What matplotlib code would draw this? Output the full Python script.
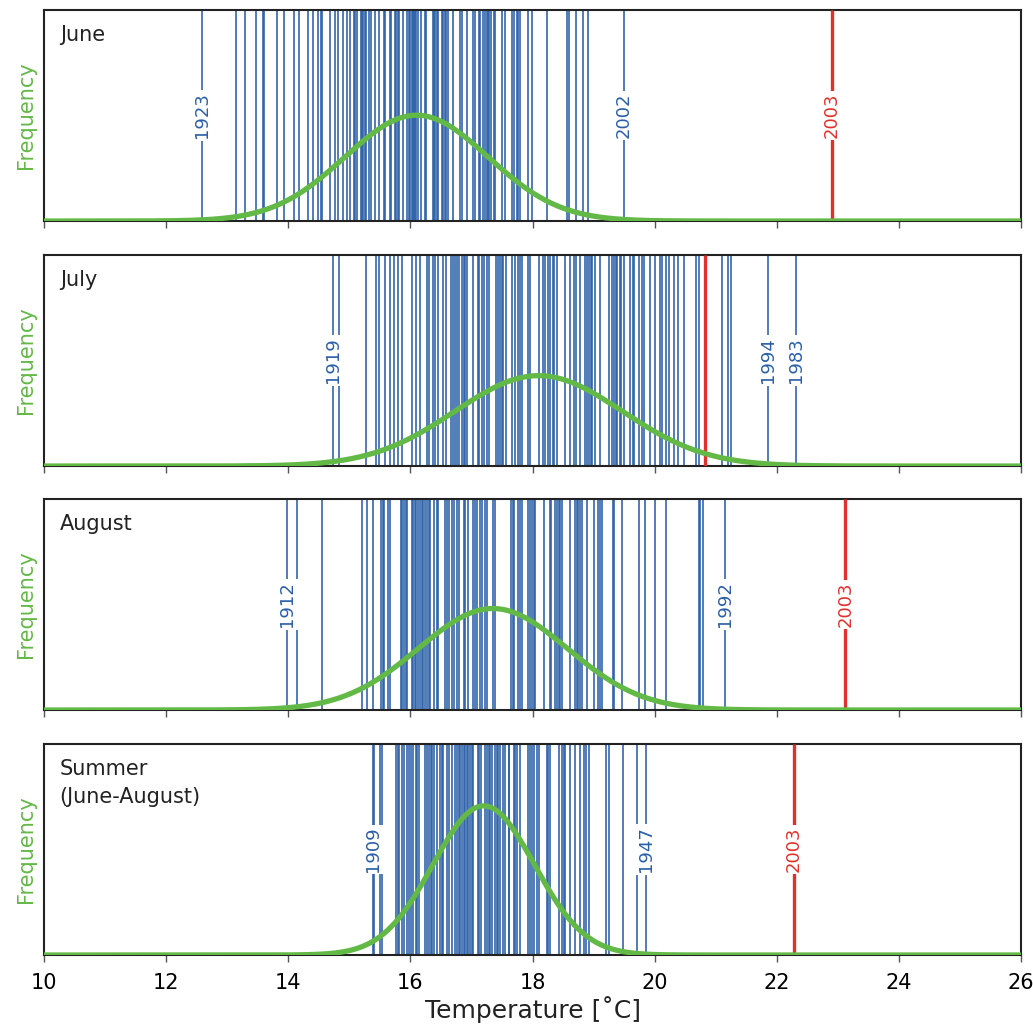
import numpy as np
import matplotlib
matplotlib.use("Agg")
import matplotlib.pyplot as plt

# yearly mean temperatures (deg C)
june_temps = [12.58, 13.14, 13.29, 13.47, 13.59, 13.60, 13.81, 13.93, 14.09, 14.17,
              14.33, 14.41, 14.48, 14.54, 14.56, 14.68, 14.77, 14.81, 14.89, 14.97,
              15.01, 15.07, 15.09, 15.12, 15.19, 15.21, 15.23, 15.26, 15.28, 15.32,
              15.35, 15.42, 15.49, 15.56, 15.58, 15.66, 15.68, 15.74, 15.76, 15.79,
              15.82, 15.88, 15.95, 15.97, 15.99, 16.02, 16.04, 16.06, 16.08, 16.10,
              16.13, 16.17, 16.24, 16.26, 16.37, 16.39, 16.41, 16.44, 16.46, 16.51,
              16.54, 16.57, 16.59, 16.62, 16.70, 16.82, 16.84, 16.93, 17.02, 17.06,
              17.12, 17.14, 17.19, 17.23, 17.25, 17.27, 17.29, 17.32, 17.37, 17.39,
              17.50, 17.55, 17.66, 17.69, 17.74, 17.77, 17.80, 17.93, 17.99, 18.23,
              18.56, 18.59, 18.71, 18.83, 18.91, 19.50]
july_temps = [14.73, 14.83, 15.28, 15.44, 15.49, 15.59, 15.67, 15.73, 15.79, 15.86,
              16.02, 16.10, 16.16, 16.28, 16.31, 16.37, 16.40, 16.45, 16.54, 16.59,
              16.66, 16.70, 16.73, 16.77, 16.80, 16.84, 16.87, 16.90, 16.92, 17.02,
              17.10, 17.13, 17.17, 17.20, 17.25, 17.28, 17.40, 17.43, 17.47, 17.50,
              17.52, 17.56, 17.67, 17.72, 17.77, 17.80, 17.83, 17.93, 17.96, 18.11,
              18.17, 18.20, 18.26, 18.29, 18.33, 18.36, 18.40, 18.54, 18.61, 18.68,
              18.71, 18.77, 18.86, 18.89, 18.92, 18.95, 18.97, 19.03, 19.11, 19.26,
              19.30, 19.33, 19.36, 19.38, 19.43, 19.45, 19.50, 19.60, 19.64, 19.67,
              19.74, 19.79, 19.82, 19.93, 20.00, 20.09, 20.12, 20.19, 20.23, 20.32,
              20.38, 20.48, 20.68, 20.73, 21.10, 21.20, 21.25, 21.86, 22.31]
august_temps = [13.98, 14.14, 14.55, 15.20, 15.29, 15.38, 15.52, 15.55, 15.57, 15.64,
                15.67, 15.84, 15.87, 15.90, 15.92, 15.95, 16.02, 16.05, 16.08, 16.10,
                16.13, 16.16, 16.19, 16.21, 16.24, 16.27, 16.30, 16.32, 16.38, 16.43,
                16.46, 16.57, 16.60, 16.63, 16.68, 16.71, 16.77, 16.80, 16.87, 16.90,
                16.95, 17.02, 17.05, 17.09, 17.14, 17.17, 17.22, 17.25, 17.36, 17.39,
                17.65, 17.68, 17.70, 17.77, 17.80, 17.83, 17.93, 17.96, 17.99, 18.02,
                18.04, 18.18, 18.28, 18.30, 18.37, 18.40, 18.43, 18.45, 18.48, 18.61,
                18.70, 18.73, 18.75, 18.78, 18.81, 18.89, 19.01, 19.07, 19.10, 19.13,
                19.31, 19.34, 19.47, 19.74, 19.85, 20.00, 20.19, 20.72, 20.75, 20.79,
                21.16]
summer_temps = [15.38, 15.40, 15.51, 15.54, 15.76, 15.79, 15.81, 15.87, 15.90, 15.94,
                15.98, 16.01, 16.05, 16.09, 16.11, 16.14, 16.24, 16.27, 16.31, 16.33,
                16.36, 16.39, 16.43, 16.49, 16.51, 16.54, 16.60, 16.64, 16.68, 16.73,
                16.76, 16.79, 16.81, 16.84, 16.87, 16.90, 16.92, 16.95, 16.98, 17.01,
                17.03, 17.10, 17.13, 17.15, 17.22, 17.25, 17.28, 17.31, 17.33, 17.38,
                17.42, 17.44, 17.47, 17.52, 17.55, 17.61, 17.62, 17.69, 17.72, 17.74,
                17.80, 17.93, 17.96, 17.99, 18.02, 18.07, 18.10, 18.24, 18.26, 18.29,
                18.43, 18.48, 18.51, 18.54, 18.62, 18.70, 18.78, 18.84, 18.88, 18.93,
                19.20, 19.25, 19.48, 19.71, 19.86]

# 2003 values (red); July's 2003 line carries no label
heat_2003 = [22.90, 20.83, 23.12, 22.28]
label_2003 = [True, False, True, True]

# labelled extreme years and their temperatures
june_labels = [("1923", 12.58), ("2002", 19.50)]
july_labels = [("1919", 14.73), ("1994", 21.86), ("1983", 22.31)]
august_labels = [("1912", 13.98), ("1992", 21.16)]
summer_labels = [("1909", 15.38), ("1947", 19.86)]

# fitted normal distributions (mean, sd)
fit_mean = [16.1, 18.1, 17.35, 17.2]
fit_sd = [1.17, 1.37, 1.22, 0.83]

panel_names = ["June", "July", "August", "Summer\n(June-August)"]

BLUE = "#2a5fa8"
RED = "#e0322a"
GREEN = "#63b946"

fig = plt.figure(figsize=(10.33, 10.29), dpi=100)
bottoms = [0.7852, 0.5471, 0.3100, 0.0719]
height = 0.2051
left, width = 0.0426, 0.9458

all_temps = [june_temps, july_temps, august_temps, summer_temps]
all_labels = [june_labels, july_labels, august_labels, summer_labels]
xs = np.linspace(10, 26, 800)

for i in range(4):
    ax = fig.add_axes([left, bottoms[i], width, height])
    trans = ax.get_xaxis_transform()

    ax.vlines(all_temps[i], 0, 1, transform=trans, color=BLUE, linewidth=1.15, zorder=2)
    ax.vlines([heat_2003[i]], 0, 1, transform=trans, color=RED, linewidth=2.4, zorder=3)

    pdf = np.exp(-0.5 * ((xs - fit_mean[i]) / fit_sd[i]) ** 2) / (fit_sd[i] * np.sqrt(2 * np.pi))
    ax.plot(xs, pdf, color=GREEN, linewidth=3.8, zorder=5, solid_capstyle="butt")

    for year, t in all_labels[i]:
        ax.text(t, 0.5, year, transform=trans, rotation=90, ha="center", va="center",
                color=BLUE, fontsize=13, zorder=4,
                bbox=dict(facecolor="white", edgecolor="none", pad=1.5))
    if label_2003[i]:
        ax.text(heat_2003[i], 0.5, "2003", transform=trans, rotation=90, ha="center",
                va="center", color=RED, fontsize=13, zorder=4,
                bbox=dict(facecolor="white", edgecolor="none", pad=1.5))

    ax.text(0.016, 0.93, panel_names[i], transform=ax.transAxes, ha="left", va="top",
            fontsize=15, color="#222222", linespacing=1.5)

    ax.set_xlim(10, 26)
    ax.set_ylim(0, 0.68)
    ax.set_yticks([])
    ax.set_xticks(np.arange(10, 27, 2))
    ax.tick_params(axis="x", direction="out", length=5, width=1, color="#555555",
                   labelsize=15, pad=8)
    if i < 3:
        ax.tick_params(axis="x", labelbottom=False)
    for sp in ax.spines.values():
        sp.set_linewidth(1.5)
        sp.set_color("#222222")
    ax.set_ylabel("Frequency", color=GREEN, fontsize=15, labelpad=6)

ax.set_xlabel("Temperature [˚C]", fontsize=18, labelpad=2, color="#222222")

fig.savefig("out.png", dpi=100)
